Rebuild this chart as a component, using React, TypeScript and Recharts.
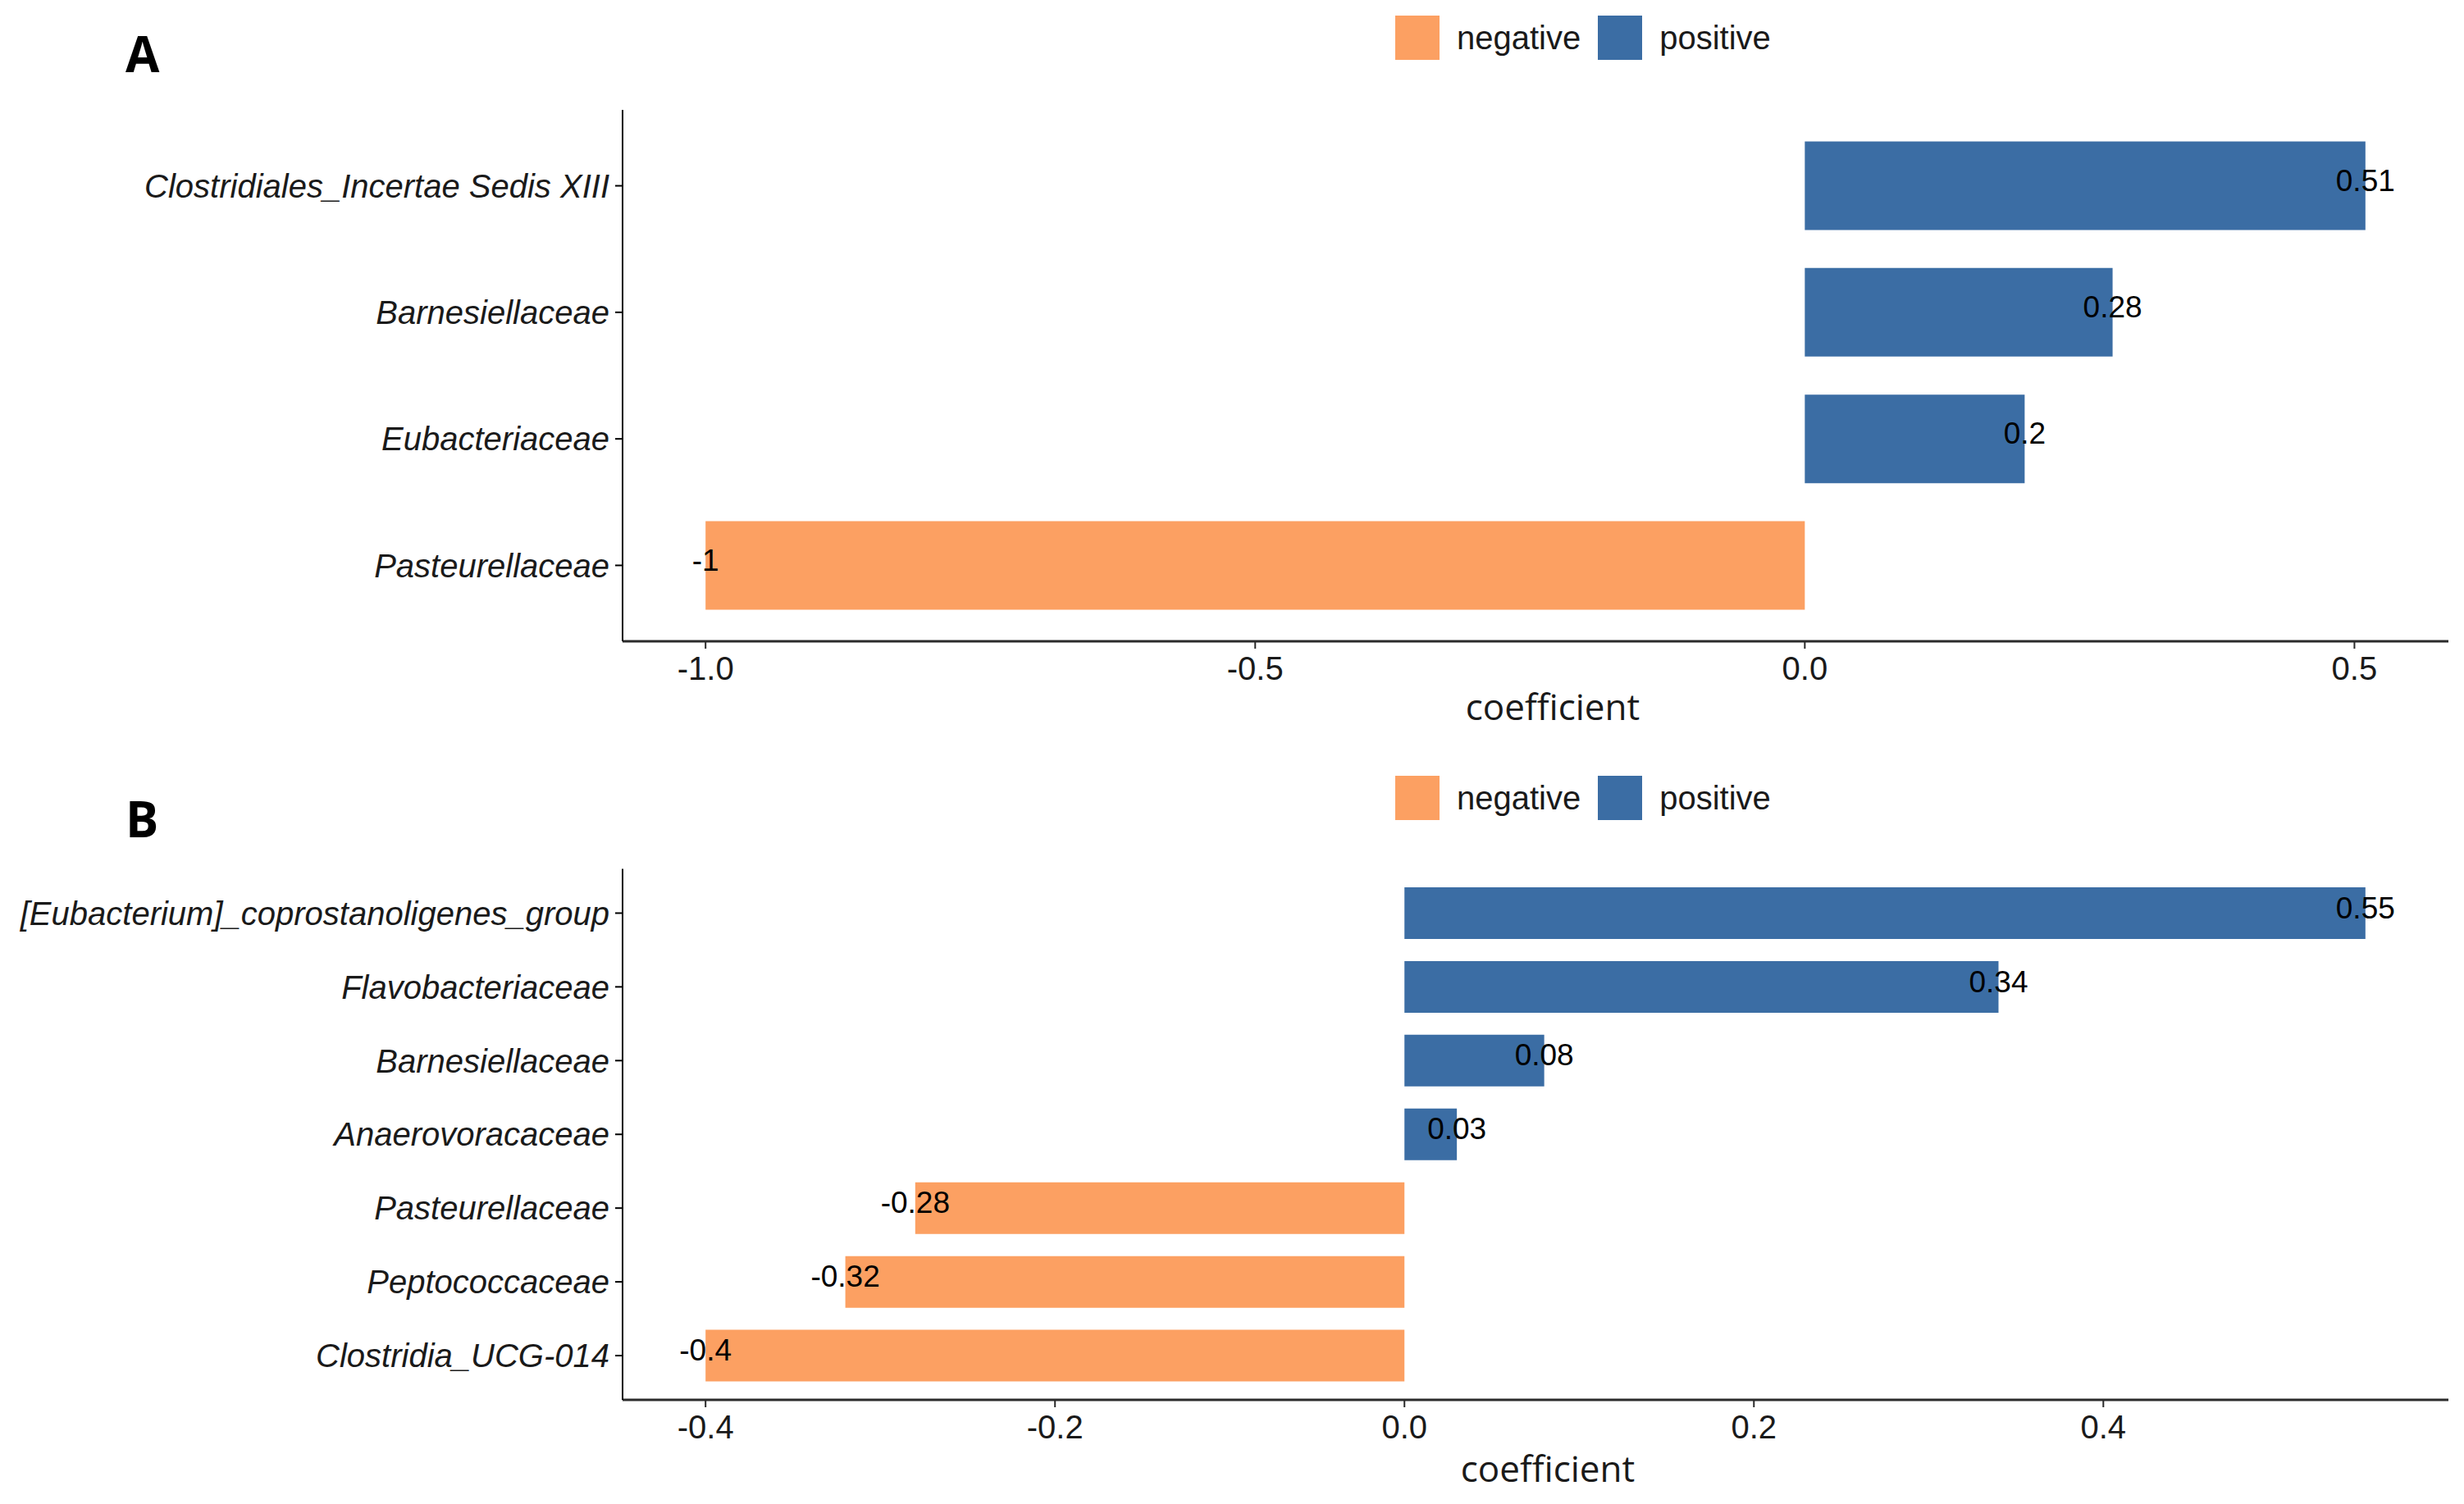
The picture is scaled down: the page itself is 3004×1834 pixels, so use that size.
import React from 'react'
import { BarChart, Bar, Cell, XAxis, YAxis, Legend, LabelList } from 'recharts'

// panel A
const catsA = ['Clostridiales_Incertae Sedis XIII', 'Barnesiellaceae', 'Eubacteriaceae', 'Pasteurellaceae']
const valsA = [0.51, 0.28, 0.2, -1]
const ticksA = [-1, -0.5, 0, 0.5]

// panel B
const catsB = [
  '[Eubacterium]_coprostanoligenes_group',
  'Flavobacteriaceae',
  'Barnesiellaceae',
  'Anaerovoracaceae',
  'Pasteurellaceae',
  'Peptococcaceae',
  'Clostridia_UCG-014',
]
const valsB = [0.55, 0.34, 0.08, 0.03, -0.28, -0.32, -0.4]
const ticksB = [-0.4, -0.2, 0, 0.2, 0.4]

const groups = ['negative', 'positive']
const groupColors = ['#FCA062', '#3B6DA4']

const FONT = '"Liberation Sans", Arial, sans-serif'
const TITLE_FONT = '"Open Sans", "Noto Sans", sans-serif'

const W = 3004
const H = 917

// ggplot-style 5% expansion of the data range
function expand(vals: number[]): [number, number] {
  const lo = Math.min(0, ...vals)
  const hi = Math.max(0, ...vals)
  const pad = (hi - lo) * 0.05
  return [lo - pad, hi + pad]
}

const CatTick = (props: any) => {
  const { x, y, payload } = props
  return (
    <text x={x} y={y} dy="0.355em" textAnchor="end" fontStyle="italic" fontSize={40} fontFamily={FONT} fill="#1a1a1a">
      {payload.value}
    </text>
  )
}

const NumTick = (props: any) => {
  const { x, y, payload } = props
  return (
    <text x={x} y={y} dy="0.71em" textAnchor="middle" fontSize={40} fontFamily={FONT} fill="#1a1a1a">
      {Number(payload.value).toFixed(1)}
    </text>
  )
}

const ValueLabel = (props: any) => {
  const { x, y, width, height, value } = props
  const xs = Number(x)
  const ws = Number(width)
  const end = value < 0 ? Math.min(xs, xs + ws) : Math.max(xs, xs + ws)
  return (
    <text x={end} y={Number(y) + Number(height) / 2 - 7} dy="0.355em" textAnchor="middle" fontSize={37} fontFamily={FONT} fill="#000">
      {String(value)}
    </text>
  )
}

const LegendBox = () => (
  <div style={{ display: 'flex', alignItems: 'center', fontFamily: FONT, fontSize: 40, color: '#1a1a1a' }}>
    {groups.map((g, i) => (
      <div key={g} style={{ display: 'flex', alignItems: 'center', marginRight: 21 }}>
        <div style={{ width: 54, height: 54, background: groupColors[i], marginRight: 21 }} />
        <span>{g}</span>
      </div>
    ))}
  </div>
)

interface PanelProps {
  tag: string
  tagTop: number
  cats: string[]
  vals: number[]
  ticks: number[]
  top: number
  marginTop: number
  marginBottom: number
  catPad: number
  legendTop: number
  titleOffset: number
  titleShift: number
}

function Panel(p: PanelProps) {
  const data = p.cats.map((name, i) => ({ name, value: p.vals[i] }))
  return (
    <div style={{ position: 'absolute', left: 0, top: p.top, width: W, height: H }}>
      <div
        style={{
          position: 'absolute',
          left: 153,
          top: p.tagTop,
          fontFamily: TITLE_FONT,
          fontWeight: 700,
          fontSize: 60,
          lineHeight: '60px',
          color: '#000',
        }}
      >
        {p.tag}
      </div>
      <BarChart
        width={W}
        height={H}
        data={data}
        layout="vertical"
        barCategoryGap="15%"
        margin={{ top: p.marginTop, right: 19, bottom: p.marginBottom, left: 0 }}
      >
        <XAxis
          type="number"
          domain={expand(p.vals)}
          ticks={p.ticks}
          allowDataOverflow
          height={100}
          axisLine={{ stroke: '#2b2b2b', strokeWidth: 3 }}
          tickLine={{ stroke: '#2b2b2b', strokeWidth: 2 }}
          tickSize={9}
          tickMargin={10}
          tick={<NumTick />}
          label={(lp: any) => (
            <text
              x={lp.viewBox.x + lp.viewBox.width / 2 + p.titleShift}
              y={lp.viewBox.y + p.titleOffset}
              dy="0.355em"
              textAnchor="middle"
              fontSize={44}
              fontFamily={TITLE_FONT}
              fill="#1a1a1a"
            >
              coefficient
            </text>
          )}
        />
        <YAxis
          type="category"
          dataKey="name"
          width={759}
          padding={{ top: p.catPad, bottom: p.catPad }}
          axisLine={{ stroke: '#000', strokeWidth: 2 }}
          tickLine={{ stroke: '#000', strokeWidth: 2 }}
          tickSize={9}
          tickMargin={7}
          tick={<CatTick />}
          interval={0}
        />
        <Legend
          layout="vertical"
          align="center"
          verticalAlign="middle"
          wrapperStyle={{ top: p.legendTop, left: 1701, width: 600, height: 54 }}
          content={() => <LegendBox />}
        />
        <Bar dataKey="value" isAnimationActive={false}>
          {data.map((d, i) => (
            <Cell key={i} fill={d.value < 0 ? groupColors[0] : groupColors[1]} />
          ))}
          <LabelList dataKey="value" content={<ValueLabel />} />
        </Bar>
      </BarChart>
    </div>
  )
}

export default function App() {
  return (
    <div style={{ position: 'absolute', left: 0, top: 0, width: W, height: 1834, background: '#fff' }}>
      <Panel
        tag="A"
        tagTop={35}
        cats={catsA}
        vals={valsA}
        ticks={ticksA}
        top={0}
        marginTop={134}
        marginBottom={35}
        catPad={15.4}
        legendTop={19}
        titleOffset={80}
        titleShift={21}
      />
      <Panel
        tag="B"
        tagTop={51}
        cats={catsB}
        vals={valsB}
        ticks={ticksB}
        top={917}
        marginTop={142.5}
        marginBottom={27}
        catPad={9}
        legendTop={29}
        titleOffset={84}
        titleShift={15}
      />
    </div>
  )
}
